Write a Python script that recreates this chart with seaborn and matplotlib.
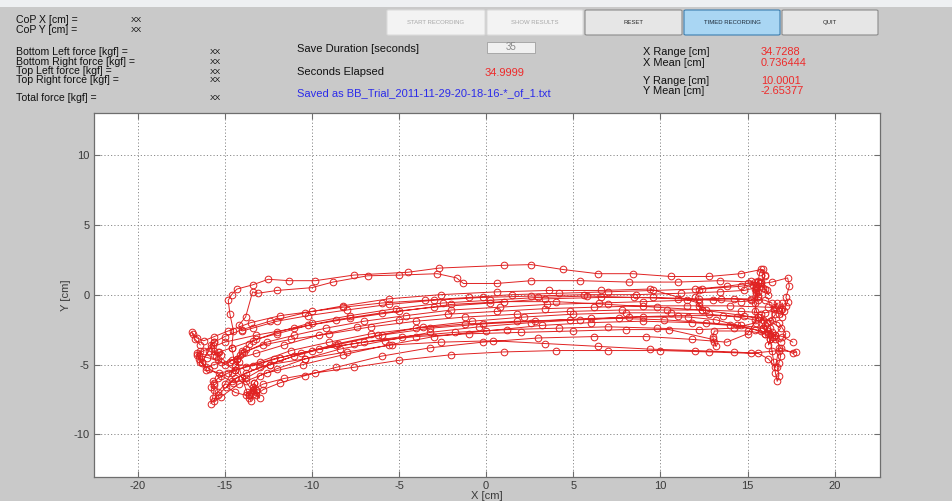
import matplotlib
matplotlib.use("Agg")
import matplotlib.pyplot as plt
from matplotlib.patches import Rectangle, FancyBboxPatch
import pandas as pd
import seaborn as sns

# ---------------------------------------------------------------------------
# Centre-of-pressure trace, one list per pass across the board (x, y in cm)
# ---------------------------------------------------------------------------
cop_x_passes = [
    [-16.4, -16.7, -16.9, -16.8, -16.6, -16.2, -15.6, -14.8, -13.5, -11.8, -10.0, -8.2, -6.0, -3.5, -1.0, 1.5, 4.2, 7.0, 9.6, 12.0, 13.8, 15.0, 15.6],
    [15.7, 15.9, 16.0, 15.8, 15.8, 15.5, 15.6, 14.6, 13.0, 11.0, 8.5, 5.8, 3.0, 0.2, -2.5, -5.2, -7.8, -10.0, -12.0, -13.4, -14.6, -15.3, -15.6],
    [-15.6, -15.5, -15.2, -15.4, -15.4, -15.0, -14.7, -14.0, -12.6, -11.0, -9.2, -7.0, -4.6, -2.0, 0.8, 3.5, 6.5, 9.0, 11.5, 13.5, 15.2, 16.0, 16.4],
    [16.4, 16.6, 16.5, 16.7, 16.6, 16.8, 17.0, 16.2, 14.0, 11.5, 9.0, 6.2, 3.4, 0.6, -2.2, -5.0, -7.4, -9.6, -11.6, -13.2, -14.6, -15.6, -16.1, -16.4],
    [-16.4, -16.6, -16.5, -16.5, -16.3, -15.9, -15.2, -14.5, -13.8, -12.4, -10.6, -8.5, -6.2, -3.6, -0.8, 2.2, 5.0, 8.0, 10.6, 12.8, 14.4, 15.4, 15.8],
    [15.8, 15.9, 16.1, 15.9, 16.0, 16.2, 16.6, 16.9, 16.3, 14.8, 12.4, 9.8, 7.0, 4.0, 1.0, -2.0, -5.0, -7.8, -10.2, -12.0, -13.2, -13.6, -13.8],
    [-14.0, -14.1, -14.3, -14.2, -14.6, -15.0, -15.4, -15.6, -15.2, -14.2, -12.6, -10.5, -8.2, -5.6, -3.0, 0.0, 3.2, 6.0, 9.0, 11.8, 14.0, 15.4, 16.0],
    [16.1, 16.2, 16.3, 16.2, 16.4, 16.9, 17.2, 16.8, 15.6, 13.6, 11.0, 8.2, 5.4, 2.6, -0.4, -3.2, -5.8, -8.4, -10.4, -12.0, -13.0, -13.3, -13.2],
    [-13.3, -13.4, -13.2, -13.4, -13.8, -14.4, -15.2, -16.0, -16.6, -16.2, -15.0, -13.2, -11.0, -8.6, -6.0, -3.0, 0.2, 3.4, 6.6, 9.6, 12.2, 14.2, 15.2, 15.6],
    [15.6, 15.7, 15.5, 15.6, 15.5, 15.4, 15.6, 15.0, 13.8, 11.8, 9.2, 6.2, 3.0, -0.2, -3.2, -6.0, -8.6, -10.4, -11.8, -12.8, -13.2, -13.0],
    [-13.2, -13.4, -13.5, -13.6, -14.0, -14.3, -13.9, -12.8, -11.2, -9.0, -6.6, -4.0, -1.2, 1.8, 4.8, 7.8, 10.4, 12.6, 14.6, 16.0, 16.8, 17.0],
    [17.0, 17.1, 17.2, 17.3, 17.2, 17.4, 17.3, 16.4, 14.6, 12.4, 12.2, 12.0, 12.2, 12.4, 12.2, 9.4, 6.6, 3.6, 0.6, -2.6, -5.6, -8.2, -10.4, -12.4, -14.0, -15.0, -15.6, -15.8],
    [-15.6, -15.7, -15.8, -15.9, -16.3, -16.1, -15.3, -14.4, -13.0, -11.2, -9.0, -6.6, -4.0, -1.2, 1.8, 4.8, 7.6, 10.2, 12.6, 14.6, 15.9, 16.3],
    [16.3, 16.4, 16.5, 16.6, 16.6, 16.9, 17.6, 17.8, 16.8, 15.2, 12.8, 10.0, 7.0, 4.0, 1.0, -2.0, -5.0, -7.6, -9.8, -11.6, -12.8, -13.4, -13.6],
    [-13.4, -13.6, -13.7, -13.8, -14.4, -14.9, -14.6, -13.8, -12.4, -10.4, -8.0, -5.4, -2.6, 0.4, 3.4, 6.4, 9.4, 12.0, 14.2, 15.6, 16.2, 16.6],
    [16.8, 16.9, 16.8, 16.7, 16.8, 16.7, 16.6, 16.5, 16.4, 16.3, 16.0, 15.0, 13.1, 13.0, 13.1, 13.2, 13.0, 10.5, 8.0, 5.0, 2.0, -1.0, -4.0, -7.0, -9.6, -11.8, -13.4, -14.4, -14.6, -14.5, -14.7],
    [-14.8, -14.6, -14.3, -13.4, -12.5, -11.3, -9.8, -7.6, -4.5, -2.7, 1.0, 2.6, 4.4, 6.4, 8.4, 10.6, 12.8, 14.6, 15.8, 16.0, 15.8],
    [16.2, 16.1, 16.0, 15.9, 15.4, 13.4, 11.0, 8.2, 5.4, 2.6, 0.6, -1.3, -1.7, -2.8, -5.0, -6.8, -8.8, -10.0, -12.0, -13.1, -13.4],
    [-13.8, -14.2, -14.0, -13.4, -12.0, -10.2, -8.0, -5.6, -3.0, -0.2, 2.6, 5.6, 8.6, 11.2, 13.4, 14.8, 15.5],
    [15.2, 15.3, 15.4, 15.5, 15.6, 15.4, 15.5, 14.2, 12.2, 9.8, 7.0, 4.2, 1.2, -1.8, -4.8, -7.6, -10.0, -12.2, -13.8, -14.8, -15.4, -15.6],
    [-15.7, -15.6, -15.8, -15.6, -15.7, -15.8, -15.4, -14.4, -13.0, -11.0, -8.6, -6.0, -3.2, -0.2, 2.8, 6.0, 9.0, 11.6, 13.2, 14.4, 15.8, 17.0, 17.6],
]
cop_y_passes = [
    [-3.6, -3.2, -2.7, -2.8, -3.1, -3.3, -3.0, -2.6, -2.0, -1.5, -1.2, -0.9, -0.6, -0.4, -0.2, 0.0, 0.1, 0.2, 0.3, 0.4, 0.6, 0.8, 0.9],
    [1.6, 1.8, 1.3, 0.9, 0.6, 0.2, -0.4, -0.5, -0.4, -0.3, -0.2, -0.1, -0.2, -0.4, -0.6, -1.0, -1.5, -2.0, -2.7, -3.3, -3.8, -4.1, -4.3],
    [-4.0, -4.4, -4.3, -4.1, -4.6, -5.0, -4.8, -4.2, -3.4, -2.9, -2.4, -1.9, -1.5, -1.1, -0.9, -0.7, -0.6, -0.5, -0.4, -0.3, -0.3, -0.4, -0.6],
    [-1.8, -1.4, -1.0, -0.6, -0.9, -1.4, -1.0, -0.9, -0.8, -0.8, -0.8, -0.9, -1.0, -1.2, -1.4, -1.8, -2.3, -2.9, -3.6, -4.2, -4.7, -5.0, -5.2, -4.8],
    [-4.0, -4.2, -4.6, -4.4, -4.9, -5.3, -5.8, -6.3, -6.0, -5.0, -4.2, -3.5, -2.9, -2.3, -1.9, -1.6, -1.4, -1.3, -1.3, -1.4, -1.6, -1.8, -2.0],
    [-1.4, -1.8, -2.0, -2.4, -2.2, -2.6, -2.9, -2.4, -1.9, -1.5, -1.1, -0.9, -0.7, -0.5, -0.5, -0.7, -1.2, -1.7, -2.2, -2.8, -3.2, -3.5, -3.9],
    [-4.0, -4.3, -4.6, -4.8, -5.6, -6.4, -7.0, -7.6, -7.3, -6.4, -5.6, -5.0, -4.3, -3.6, -3.0, -2.6, -2.2, -2.0, -1.9, -2.0, -2.2, -2.5, -2.8],
    [-2.4, -2.8, -3.2, -3.6, -3.0, -3.4, -2.8, -2.0, -1.6, -1.5, -1.5, -1.6, -1.8, -2.0, -2.3, -2.7, -3.3, -3.9, -4.6, -5.3, -5.8, -6.3, -6.8],
    [-6.3, -6.6, -7.0, -6.9, -6.2, -5.4, -4.8, -4.5, -4.3, -4.0, -3.4, -2.9, -2.4, -1.8, -1.3, -0.9, -0.6, -0.3, -0.2, -0.2, -0.3, -0.3, -0.4, -0.1],
    [1.0, 0.8, 0.6, 0.2, 0.3, -0.6, -1.6, -2.8, -3.4, -3.2, -3.0, -3.0, -3.1, -3.4, -3.8, -4.4, -5.2, -5.8, -6.3, -6.8, -7.2, -7.4],
    [-6.8, -7.1, -7.6, -7.4, -6.0, -4.6, -4.1, -3.6, -3.2, -2.8, -2.3, -1.9, -1.6, -1.4, -1.2, -1.1, -1.1, -1.1, -1.2, -1.3, -1.1, -0.6],
    [-1.6, -1.2, -0.8, -0.5, -0.2, 0.6, 1.2, 0.9, 0.6, 0.4, 0.3, -0.2, -0.8, -1.1, -0.6, 0.4, 0.3, 0.3, 0.2, 0.0, -0.3, -0.8, -1.3, -1.9, -2.5, -3.0, -3.4, -3.6],
    [-3.4, -3.6, -3.8, -4.0, -4.8, -5.4, -5.6, -5.4, -4.8, -4.0, -3.4, -2.8, -2.4, -2.1, -1.9, -1.8, -1.7, -1.8, -2.0, -2.2, -2.4, -2.8],
    [-2.4, -2.7, -3.0, -2.9, -3.2, -3.8, -4.2, -4.1, -4.0, -4.2, -4.1, -4.0, -4.0, -4.0, -4.1, -4.3, -4.7, -5.2, -5.6, -6.0, -6.4, -6.8, -7.1],
    [-6.8, -7.2, -7.0, -7.2, -7.0, -6.6, -6.2, -5.6, -5.0, -4.6, -4.1, -3.6, -3.4, -3.3, -3.5, -3.7, -3.9, -4.0, -4.1, -4.2, -4.6, -5.2],
    [-3.8, -4.4, -4.9, -5.2, -5.8, -6.2, -5.6, -4.8, -4.0, -3.2, -2.8, -2.6, -2.6, -3.0, -3.4, -3.7, -3.2, -2.5, -2.5, -2.6, -2.7, -2.8, -3.0, -3.4, -3.9, -4.5, -5.1, -5.0, -3.8, -2.6, -1.4],
    [-0.4, 0.0, 0.4, 0.7, 1.1, 1.0, 1.0, 1.4, 1.6, 1.9, 2.1, 2.15, 1.8, 1.5, 1.5, 1.3, 1.3, 1.5, 1.8, 1.4, 0.8],
    [0.0, 0.3, 0.4, 0.5, 0.9, 1.0, 0.9, 0.9, 1.0, 1.0, 0.8, 0.8, 1.2, 1.5, 1.4, 1.35, 0.9, 0.5, 0.3, 0.1, 0.2],
    [-1.6, -2.2, -2.6, -2.4, -1.9, -1.5, -1.1, -0.7, -0.4, -0.2, -0.1, 0.0, 0.0, 0.1, 0.2, 0.3, 0.5],
    [1.0, 0.7, 0.4, 0.1, -0.2, -1.2, -2.0, -2.4, -2.5, -2.4, -2.3, -2.4, -2.5, -2.7, -3.0, -3.5, -4.0, -4.6, -5.2, -5.6, -6.0, -6.3],
    [-6.2, -6.5, -6.6, -6.8, -7.4, -7.8, -7.2, -6.0, -5.2, -4.4, -3.6, -2.9, -2.4, -2.1, -1.9, -1.7, -1.6, -1.6, -1.8, -2.2, -2.6, -3.0, -3.4],
]

x_ticks = [-20, -15, -10, -5, 0, 5, 10, 15, 20]
y_ticks = [-10, -5, 0, 5, 10]

# Panel read-outs
cop_labels = ["CoP X [cm] =", "CoP Y [cm] ="]
force_labels = ["Bottom Left force [kgf] =", "Bottom Right force [kgf] =",
                "Top Left force [kgf] =", "Top Right force [kgf] =", "Total force [kgf] ="]
stat_labels = ["X Range [cm]", "X Mean [cm]", "Y Range [cm]", "Y Mean [cm]"]
stat_values = ["34.7288", "0.736444", "10.0001", "-2.65377"]
button_labels = ["START RECORDING", "SHOW RESULTS", "RESET", "TIMED RECORDING", "QUIT"]
save_duration = "35"
seconds_elapsed = "34.9999"
saved_name = "Saved as BB_Trial_2011-11-29-20-18-16-*_of_1.txt"

# Flatten the passes into one continuous path
path_x = [v for p in cop_x_passes for v in p]
path_y = [v for p in cop_y_passes for v in p]
trace = pd.DataFrame({"x": path_x, "y": path_y})

# ---------------------------------------------------------------------------
sns.set_theme(style="white")
plt.rcParams["font.family"] = ["Liberation Sans", "DejaVu Sans"]
plt.rcParams["axes.unicode_minus"] = False

W, H = 953, 501
fig = plt.figure(figsize=(W / 100, H / 100), dpi=100)
fig.patch.set_facecolor("#c9c9c9")


def fx(px):
    return px / W


def fy(py):
    return 1 - py / H


# light strip along the very top of the window
fig.patches.append(Rectangle((0, fy(7)), 1, 7 / H, transform=fig.transFigure,
                             facecolor="#eef0f2", edgecolor="none", zorder=0))

# push buttons
btn_spans = [(387, 485), (487, 583), (585, 682), (684, 780), (782, 878)]
btn_faces = ["#f3f3f3", "#f3f3f3", "#e6e6e6", "#a9d6f3", "#e6e6e6"]
btn_edges = ["#dcdcdc", "#dcdcdc", "#8c8c8c", "#3d7fb0", "#8c8c8c"]
btn_text = ["#a8a8a8", "#a8a8a8", "#2a2a2a", "#1d2a38", "#2a2a2a"]
for (x0, x1), lab, fc, ec, tc in zip(btn_spans, button_labels, btn_faces, btn_edges, btn_text):
    fig.patches.append(FancyBboxPatch((fx(x0), fy(35)), (x1 - x0) / W, 25 / H,
                                      boxstyle="round,pad=0,rounding_size=0.002",
                                      transform=fig.transFigure, facecolor=fc,
                                      edgecolor=ec, linewidth=0.8, zorder=1))
    fig.text(fx((x0 + x1) / 2), fy(22.5), lab, ha="center", va="center",
             fontsize=4.3, color=tc)

# left read-out block
for lab, py in zip(cop_labels, [20, 30]):
    fig.text(fx(16), fy(py), lab, ha="left", va="center", fontsize=7.6, color="#111111")
    fig.text(fx(131), fy(py + 1), "XX", ha="left", va="center", fontsize=6, color="#111111")
for lab, py in zip(force_labels, [52, 62, 71, 80, 98]):
    fig.text(fx(16), fy(py), lab, ha="left", va="center", fontsize=7.6, color="#111111")
    fig.text(fx(210), fy(py + 1), "XX", ha="left", va="center", fontsize=6, color="#111111")

# recording block
fig.text(fx(297), fy(49), "Save Duration [seconds]", ha="left", va="center",
         fontsize=8, color="#111111")
fig.patches.append(Rectangle((fx(487), fy(53)), 48 / W, 11 / H, transform=fig.transFigure,
                             facecolor="#f0f0f0", edgecolor="#a0a0a0", linewidth=0.6))
fig.text(fx(511), fy(47.5), save_duration, ha="center", va="center", fontsize=7,
         color="#888888")
fig.text(fx(297), fy(72), "Seconds Elapsed", ha="left", va="center", fontsize=8,
         color="#111111")
fig.text(fx(485), fy(73), seconds_elapsed, ha="left", va="center", fontsize=8,
         color="#ee2a2a")
fig.text(fx(297), fy(93), saved_name, ha="left", va="center", fontsize=8,
         color="#2b2bea")

# statistics block
for lab, val, py in zip(stat_labels, stat_values, [52, 62.5, 80.5, 91]):
    fig.text(fx(643), fy(py), lab, ha="left", va="center", fontsize=7.9, color="#111111")
    fig.text(fx(761), fy(py), val, ha="left", va="center", fontsize=7.9, color="#ee2a2a")

# ---------------------------------------------------------------------------
# trajectory axes
ax = fig.add_axes([fx(94), fy(477), (880 - 94) / W, (477 - 113) / H])
ax.set_facecolor("white")
sns.lineplot(data=trace, x="x", y="y", sort=False, estimator=None, ax=ax,
             color="#e02222", linewidth=0.7,
             marker="o", markersize=4.8, markerfacecolor="none",
             markeredgecolor="#e02222", markeredgewidth=0.7)

ax.set_xlim(-22.5, 22.6)
ax.set_ylim(-13.05, 13.0)
ax.set_xticks(x_ticks)
ax.set_yticks(y_ticks)
ax.grid(True, color="#8a8a8a", linestyle=(0, (1.2, 2.2)), linewidth=0.7)
for s in ax.spines.values():
    s.set_color("#6e6e6e")
    s.set_linewidth(0.9)
ax.tick_params(direction="in", length=4, width=0.8, color="#6e6e6e",
               labelsize=8, labelcolor="#3a3a3a", pad=3,
               top=True, right=True, bottom=True, left=True)
ax.set_xlabel("X [cm]", fontsize=8, color="#3a3a3a", labelpad=0)
ax.set_ylabel("Y [cm]", fontsize=8, color="#3a3a3a", labelpad=2)

fig.savefig("out.png", dpi=100, facecolor=fig.get_facecolor())
